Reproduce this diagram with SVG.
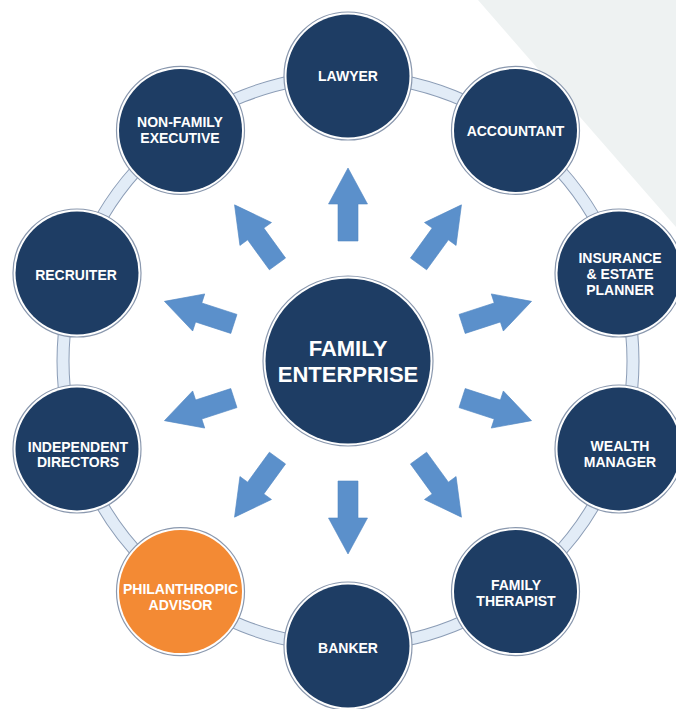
<svg xmlns="http://www.w3.org/2000/svg" xmlns:xlink="http://www.w3.org/1999/xlink" width="676" height="709" viewBox="0 0 676 709">
<style>
.rim{fill:#ffffff;stroke:#8a98ae;stroke-width:1.2}
.navy{fill:#1e3d64}
.orange{fill:#f38a34}
.t{font-family:"Liberation Sans",Arial,sans-serif;font-weight:bold;font-size:14px;fill:#ffffff;text-anchor:middle}
.tc{font-family:"Liberation Sans",Arial,sans-serif;font-weight:bold;font-size:22px;fill:#ffffff;text-anchor:middle}
.arrow{fill:#5b90cb;stroke:#5287c2;stroke-width:0.6}
</style>
<defs>
<polygon id="arr" class="arrow" points="468,351 505,351 505,341.5 541,361 505,380.5 505,371 468,371"/>
</defs>
<rect width="676" height="709" fill="#ffffff"/>
<polygon points="478,0 676,0 676,227" fill="#eef2f2"/>
<g id="connectors">
<circle cx="348" cy="361" r="285" fill="none" stroke="#8c9db6" stroke-width="13"/>
<circle cx="348" cy="361" r="285" fill="none" stroke="#e2ecf7" stroke-width="11"/>
<use xlink:href="#arr" transform="rotate(-90 348 361)"/>
<use xlink:href="#arr" transform="rotate(-54 348 361)"/>
<use xlink:href="#arr" transform="rotate(-18 348 361)"/>
<use xlink:href="#arr" transform="rotate(18 348 361)"/>
<use xlink:href="#arr" transform="rotate(54 348 361)"/>
<use xlink:href="#arr" transform="rotate(90 348 361)"/>
<use xlink:href="#arr" transform="rotate(126 348 361)"/>
<use xlink:href="#arr" transform="rotate(162 348 361)"/>
<use xlink:href="#arr" transform="rotate(198 348 361)"/>
<use xlink:href="#arr" transform="rotate(234 348 361)"/>
</g>
<g id="center">
<circle class="rim" cx="348" cy="361" r="85"/>
<circle class="navy" cx="348" cy="361" r="82.5"/>
<text class="tc" x="348" y="356">FAMILY</text>
<text class="tc" x="348" y="382">ENTERPRISE</text>
</g>
<g id="lawyer">
<circle class="rim" cx="348" cy="76" r="64"/>
<circle class="navy" cx="348" cy="76" r="61.5"/>
<text class="t" x="348" y="81">LAWYER</text>
</g>
<g id="accountant">
<circle class="rim" cx="515.5" cy="130.4" r="64"/>
<circle class="navy" cx="515.5" cy="130.4" r="61.5"/>
<text class="t" x="515.5" y="135.5">ACCOUNTANT</text>
</g>
<g id="insurance">
<circle class="rim" cx="619" cy="273" r="64"/>
<circle class="navy" cx="619" cy="273" r="61.5"/>
<text class="t" x="620" y="263">INSURANCE</text>
<text class="t" x="620" y="279">&amp; ESTATE</text>
<text class="t" x="620" y="295">PLANNER</text>
</g>
<g id="wealth">
<circle class="rim" cx="619" cy="449" r="64"/>
<circle class="navy" cx="619" cy="449" r="61.5"/>
<text class="t" x="620" y="451">WEALTH</text>
<text class="t" x="620" y="467">MANAGER</text>
</g>
<g id="therapist">
<circle class="rim" cx="515.5" cy="591.6" r="64"/>
<circle class="navy" cx="515.5" cy="591.6" r="61.5"/>
<text class="t" x="516" y="590">FAMILY</text>
<text class="t" x="516" y="606">THERAPIST</text>
</g>
<g id="banker">
<circle class="rim" cx="348" cy="646" r="64"/>
<circle class="navy" cx="348" cy="646" r="61.5"/>
<text class="t" x="348" y="653">BANKER</text>
</g>
<g id="philanthropic">
<circle class="rim" cx="180.5" cy="591.6" r="64"/>
<circle class="orange" cx="180.5" cy="591.6" r="61.5"/>
<text class="t" x="180.5" y="594">PHILANTHROPIC</text>
<text class="t" x="180.5" y="610">ADVISOR</text>
</g>
<g id="independent">
<circle class="rim" cx="77" cy="449" r="64"/>
<circle class="navy" cx="77" cy="449" r="61.5"/>
<text class="t" x="78" y="452">INDEPENDENT</text>
<text class="t" x="78" y="467">DIRECTORS</text>
</g>
<g id="recruiter">
<circle class="rim" cx="77" cy="273" r="64"/>
<circle class="navy" cx="77" cy="273" r="61.5"/>
<text class="t" x="76" y="280">RECRUITER</text>
</g>
<g id="nonfamily">
<circle class="rim" cx="180.5" cy="130.4" r="64"/>
<circle class="navy" cx="180.5" cy="130.4" r="61.5"/>
<text class="t" x="180" y="127">NON-FAMILY</text>
<text class="t" x="180" y="143">EXECUTIVE</text>
</g>
</svg>
